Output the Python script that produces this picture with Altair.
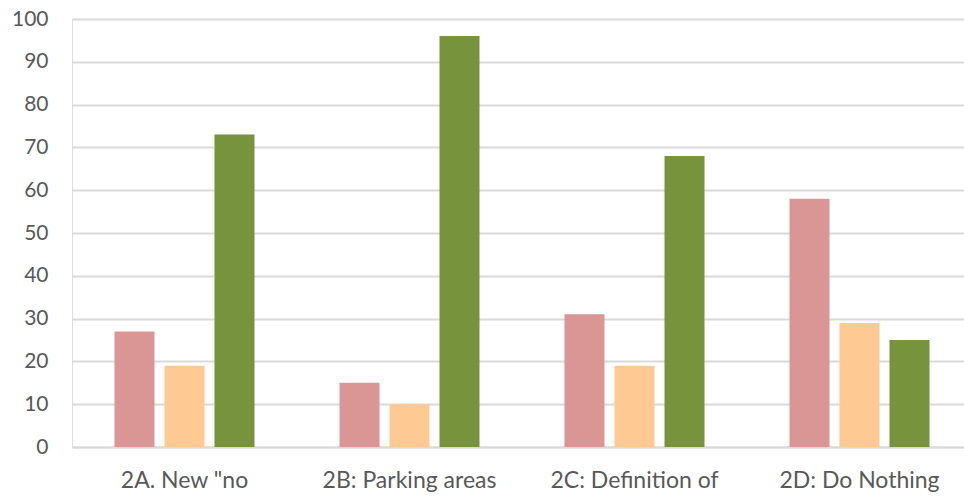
import altair as alt
import pandas as pd

# Proposal categories and the three response series per category
categories = ['2A. New "no', "2B: Parking areas", "2C: Definition of", "2D: Do Nothing"]
series_names = ["Against", "Neutral", "In favour"]
against = [27, 15, 31, 58]
neutral = [19, 10, 19, 29]
in_favour = [73, 96, 68, 25]
y_ticks = [0, 10, 20, 30, 40, 50, 60, 70, 80, 90, 100]
colors = ["#D99694", "#FFC993", "#77933C"]

rows = []
for i, cat in enumerate(categories):
    for name, vals in zip(series_names, [against, neutral, in_favour]):
        rows.append({"category": cat, "series": name, "value": vals[i]})
df = pd.DataFrame(rows)

font = "Lato"

chart = (
    alt.Chart(df)
    .mark_bar(clip=True)
    .encode(
        x=alt.X(
            "category:N",
            sort=categories,
            scale=alt.Scale(range=[0, 900], paddingInner=85 / 225, paddingOuter=85 / 450),
            axis=alt.Axis(
                title=None,
                labelAngle=0,
                ticks=False,
                domain=True,
                domainColor="#D9D9D9",
                domainWidth=2,
                labelFont=font,
                labelFontSize=23,
                labelColor="#595959",
                labelPadding=22,
                labelBaseline="top",
                grid=False,
            ),
        ),
        xOffset=alt.XOffset(
            "series:N",
            sort=series_names,
            scale=alt.Scale(paddingInner=0.2, paddingOuter=0),
        ),
        y=alt.Y(
            "value:Q",
            scale=alt.Scale(domain=[0, 100], nice=False),
            axis=alt.Axis(
                title=None,
                values=y_ticks,
                domain=False,
                ticks=False,
                labelFont=font,
                labelFontSize=21,
                labelColor="#595959",
                labelPadding=24,
                gridColor="#D9D9D9",
                gridWidth=2,
            ),
        ),
        color=alt.Color(
            "series:N",
            sort=series_names,
            scale=alt.Scale(domain=series_names, range=colors),
            legend=None,
        ),
    )
    .properties(
        width=892,
        height=428,
        autosize=alt.AutoSizeParams(type="none"),
        padding={"left": 72, "top": 19, "right": 0, "bottom": 50},
    )
    .configure_view(stroke=None)
    .configure(background="white")
)

chart.save("out.html", embed_options={"renderer": "svg", "actions": False})
